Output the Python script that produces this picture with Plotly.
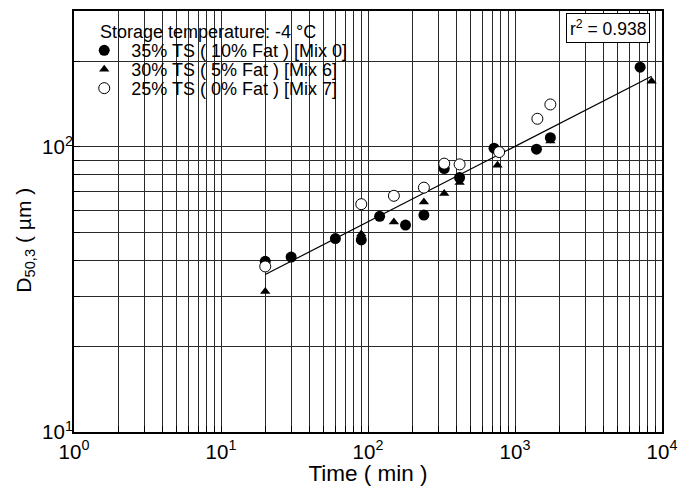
import plotly.graph_objects as go

# ---- data ----
mix0_x = [20, 30, 60, 90, 120, 180, 240, 330, 420, 720, 1400, 1740, 7100]
mix0_y = [39.7, 41.1, 47.7, 47.2, 57.1, 53.2, 57.7, 84.0, 78.1, 99.0, 98.2, 107.8, 190.5]

mix6_x = [20, 90, 150, 240, 330, 420, 760, 1740, 8500]
mix6_y = [31.1, 49.5, 54.5, 64.1, 68.7, 75.1, 86.3, 105, 170]

mix7_x = [20, 90, 150, 240, 330, 420, 780, 1420, 1740]
mix7_y = [38.1, 63.0, 67.4, 72.0, 87.4, 86.9, 96.0, 125.6, 141]

fit_x = [20, 8500]
fit_y = [35.7, 177]

names = ["35% TS ( 10% Fat ) [Mix 0]", "30% TS ( 5% Fat ) [Mix 6]", "25% TS ( 0% Fat ) [Mix 7]"]
legend_title = "Storage temperature: -4 °C"
r2_text = "r<sup>2</sup> = 0.938"

x_major = [1, 10, 100, 1000, 10000]
x_major_labels = ["10<sup>0</sup>", "10<sup>1</sup>", "10<sup>2</sup>", "10<sup>3</sup>", "10<sup>4</sup>"]
y_major = [10, 100]
y_major_labels = ["10<sup>1</sup>", "10<sup>2</sup>"]

# ---- tick positions (log minor grid) ----
x_ticks, x_text = [], []
for d in [1, 10, 100, 1000]:
    for m in range(1, 10):
        v = d * m
        x_ticks.append(v)
        x_text.append(x_major_labels[x_major.index(v)] if v in x_major else "")
x_ticks.append(10000)
x_text.append(x_major_labels[-1])

y_ticks, y_text = [], []
for d in [10, 100]:
    for m in range(1, 10):
        v = d * m
        if v > 300:
            break
        y_ticks.append(v)
        y_text.append(y_major_labels[y_major.index(v)] if v in y_major else "")

FONT = "Liberation Sans, Arial, sans-serif"
GRID = "#2a2a2a"

fig = go.Figure()

fig.add_trace(go.Scatter(x=fit_x, y=fit_y, mode="lines",
                         line=dict(color="black", width=1.2), showlegend=False, hoverinfo="skip"))

fig.add_trace(go.Scatter(x=mix0_x, y=mix0_y, mode="markers", name=names[0],
                         marker=dict(symbol="circle", size=11, color="black"),
                         legend="legend"))
fig.add_trace(go.Scatter(x=mix6_x, y=mix6_y, mode="markers", name=names[1],
                         marker=dict(symbol="triangle-up", size=9, color="black"),
                         legend="legend2"))
fig.add_trace(go.Scatter(x=mix7_x, y=mix7_y, mode="markers", name=names[2],
                         marker=dict(symbol="circle", size=11, color="white",
                                     line=dict(color="black", width=1)),
                         legend="legend3"))

axis_common = dict(
    type="log", showline=True, linecolor="black", linewidth=2, mirror=True,
    ticks="inside", ticklen=6, tickcolor="black", tickwidth=1,
    showgrid=True, gridcolor=GRID, gridwidth=1, zeroline=False,
    tickfont=dict(family=FONT, size=20.5, color="black"),
)

fig.update_xaxes(**axis_common, range=[0, 4], tickmode="array", tickvals=x_ticks, ticktext=x_text,
                 title=dict(text="Time ( min )", font=dict(family=FONT, size=22.5, color="black"), standoff=0))
fig.update_yaxes(**axis_common, range=[1, 2.4771], tickmode="array", tickvals=y_ticks, ticktext=y_text,
                 ticklabelstandoff=-5)

leg_common = dict(x=0.0055, xanchor="left", yanchor="middle", bgcolor="rgba(0,0,0,0)",
                  borderwidth=0, itemwidth=44, font=dict(family=FONT, size=18, color="black"))
fig.update_layout(
    legend=dict(**leg_common, y=0.906),
    legend2=dict(**leg_common, y=0.861),
    legend3=dict(**leg_common, y=0.816),
)

# white box behind the legend (covers the grid)
fig.add_shape(type="rect", xref="paper", yref="paper", x0=0, x1=0.483, y0=0.771, y1=1,
              fillcolor="white", line=dict(width=0), layer="between")

fig.add_annotation(text=legend_title, xref="paper", yref="paper", x=0.040, y=0.950,
                   xanchor="left", yanchor="middle", showarrow=False,
                   font=dict(family=FONT, size=18, color="black"))

fig.add_annotation(text=r2_text, xref="paper", yref="paper", x=0.9085, y=0.960,
                   xanchor="center", yanchor="middle", showarrow=False,
                   bgcolor="white", bordercolor="black", borderwidth=1, borderpad=3,
                   font=dict(family=FONT, size=17.5, color="black"))

fig.add_annotation(text="D<sub>50,3</sub> ( µm )", xref="paper", yref="paper",
                   x=-0.083, y=0.455, textangle=-90, showarrow=False,
                   xanchor="center", yanchor="middle",
                   font=dict(family=FONT, size=21, color="black"))

# page body has an 8px margin: figure is shrunk so the plot lands where the reference has it
fig.update_layout(
    width=683, height=478,
    margin=dict(l=66, r=29, t=1, b=54),
    paper_bgcolor="white", plot_bgcolor="white",
)

fig.write_html("out.html")
